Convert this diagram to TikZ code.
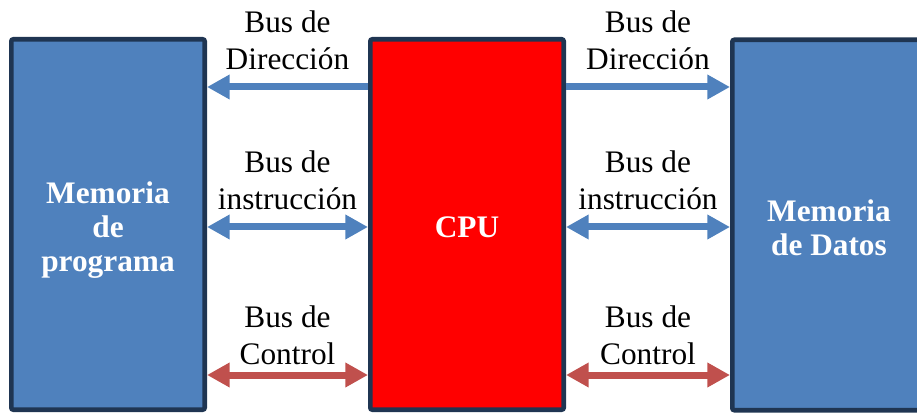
\documentclass[tikz,border=0pt]{standalone}
\usepackage{fontspec}
\setmainfont{Liberation Serif}
\usetikzlibrary{arrows.meta,positioning}
\definecolor{azul}{HTML}{4F81BD}
\definecolor{rojobus}{HTML}{C0504D}
\definecolor{borde}{HTML}{1F3552}

\begin{document}
\begin{tikzpicture}[x=0.75pt,y=-0.75pt,
    caja/.style={draw=borde, line width=3.5pt, rounded corners=1.5pt, minimum width=145pt, minimum height=277.75pt, text=white, align=center, font=\fontsize{23.5}{25.5}\selectfont\bfseries},
    etiqueta/.style={align=center, inner sep=0pt, font=\fontsize{23.5}{27.75}\selectfont},
    flecha/.style={line width=5.25pt, -{Triangle[length=17pt,width=17.5pt]}},
    doble/.style={line width=5.25pt, {Triangle[length=17pt,width=17.5pt]}-{Triangle[length=17pt,width=17.5pt]}}]
    \useasboundingbox (0,0) rectangle (917,413);

    % Definimos las cajas
    \node[caja, fill=azul] (prog) at (108,224.5) {};
    \node[caja, fill=red] (cpu) at (467,224.5) {};
    \node[caja, fill=azul] (datos) at (829,225) {};

    % Textos de las cajas
    \node[caja, draw=none, fill=none, minimum height=0pt] (tprog) at (108,230) {Memoria\\de\\programa};
    \node[caja, draw=none, fill=none, minimum height=0pt] (tcpu) at (467,227) {CPU};
    \node[caja, draw=none, fill=none, minimum height=0pt] (tdatos) at (829,228) {Memoria\\de Datos};

    % Alturas de los buses
    \coordinate (yd) at (0,87);
    \coordinate (yi) at (0,227);
    \coordinate (yc) at (0,375);

    % Etiquetas de los buses
    \foreach \y/\txt in {40/Dirección, 180/instrucción, 335/Control} {
        \node[etiqueta] (izq\y) at (287.5,\y) {Bus de\\\txt};
        \node[etiqueta] (der\y) at (648,\y) {Bus de\\\txt};
    }

    % Dibujamos los buses
    \draw[flecha, azul] (cpu.west |- yd) -- (prog.east |- yd);
    \draw[flecha, azul] (cpu.east |- yd) -- (datos.west |- yd);
    \draw[doble, azul] (prog.east |- yi) -- (cpu.west |- yi);
    \draw[doble, azul] (cpu.east |- yi) -- (datos.west |- yi);
    \draw[doble, rojobus] (prog.east |- yc) -- (cpu.west |- yc);
    \draw[doble, rojobus] (cpu.east |- yc) -- (datos.west |- yc);
\end{tikzpicture}
\end{document}
